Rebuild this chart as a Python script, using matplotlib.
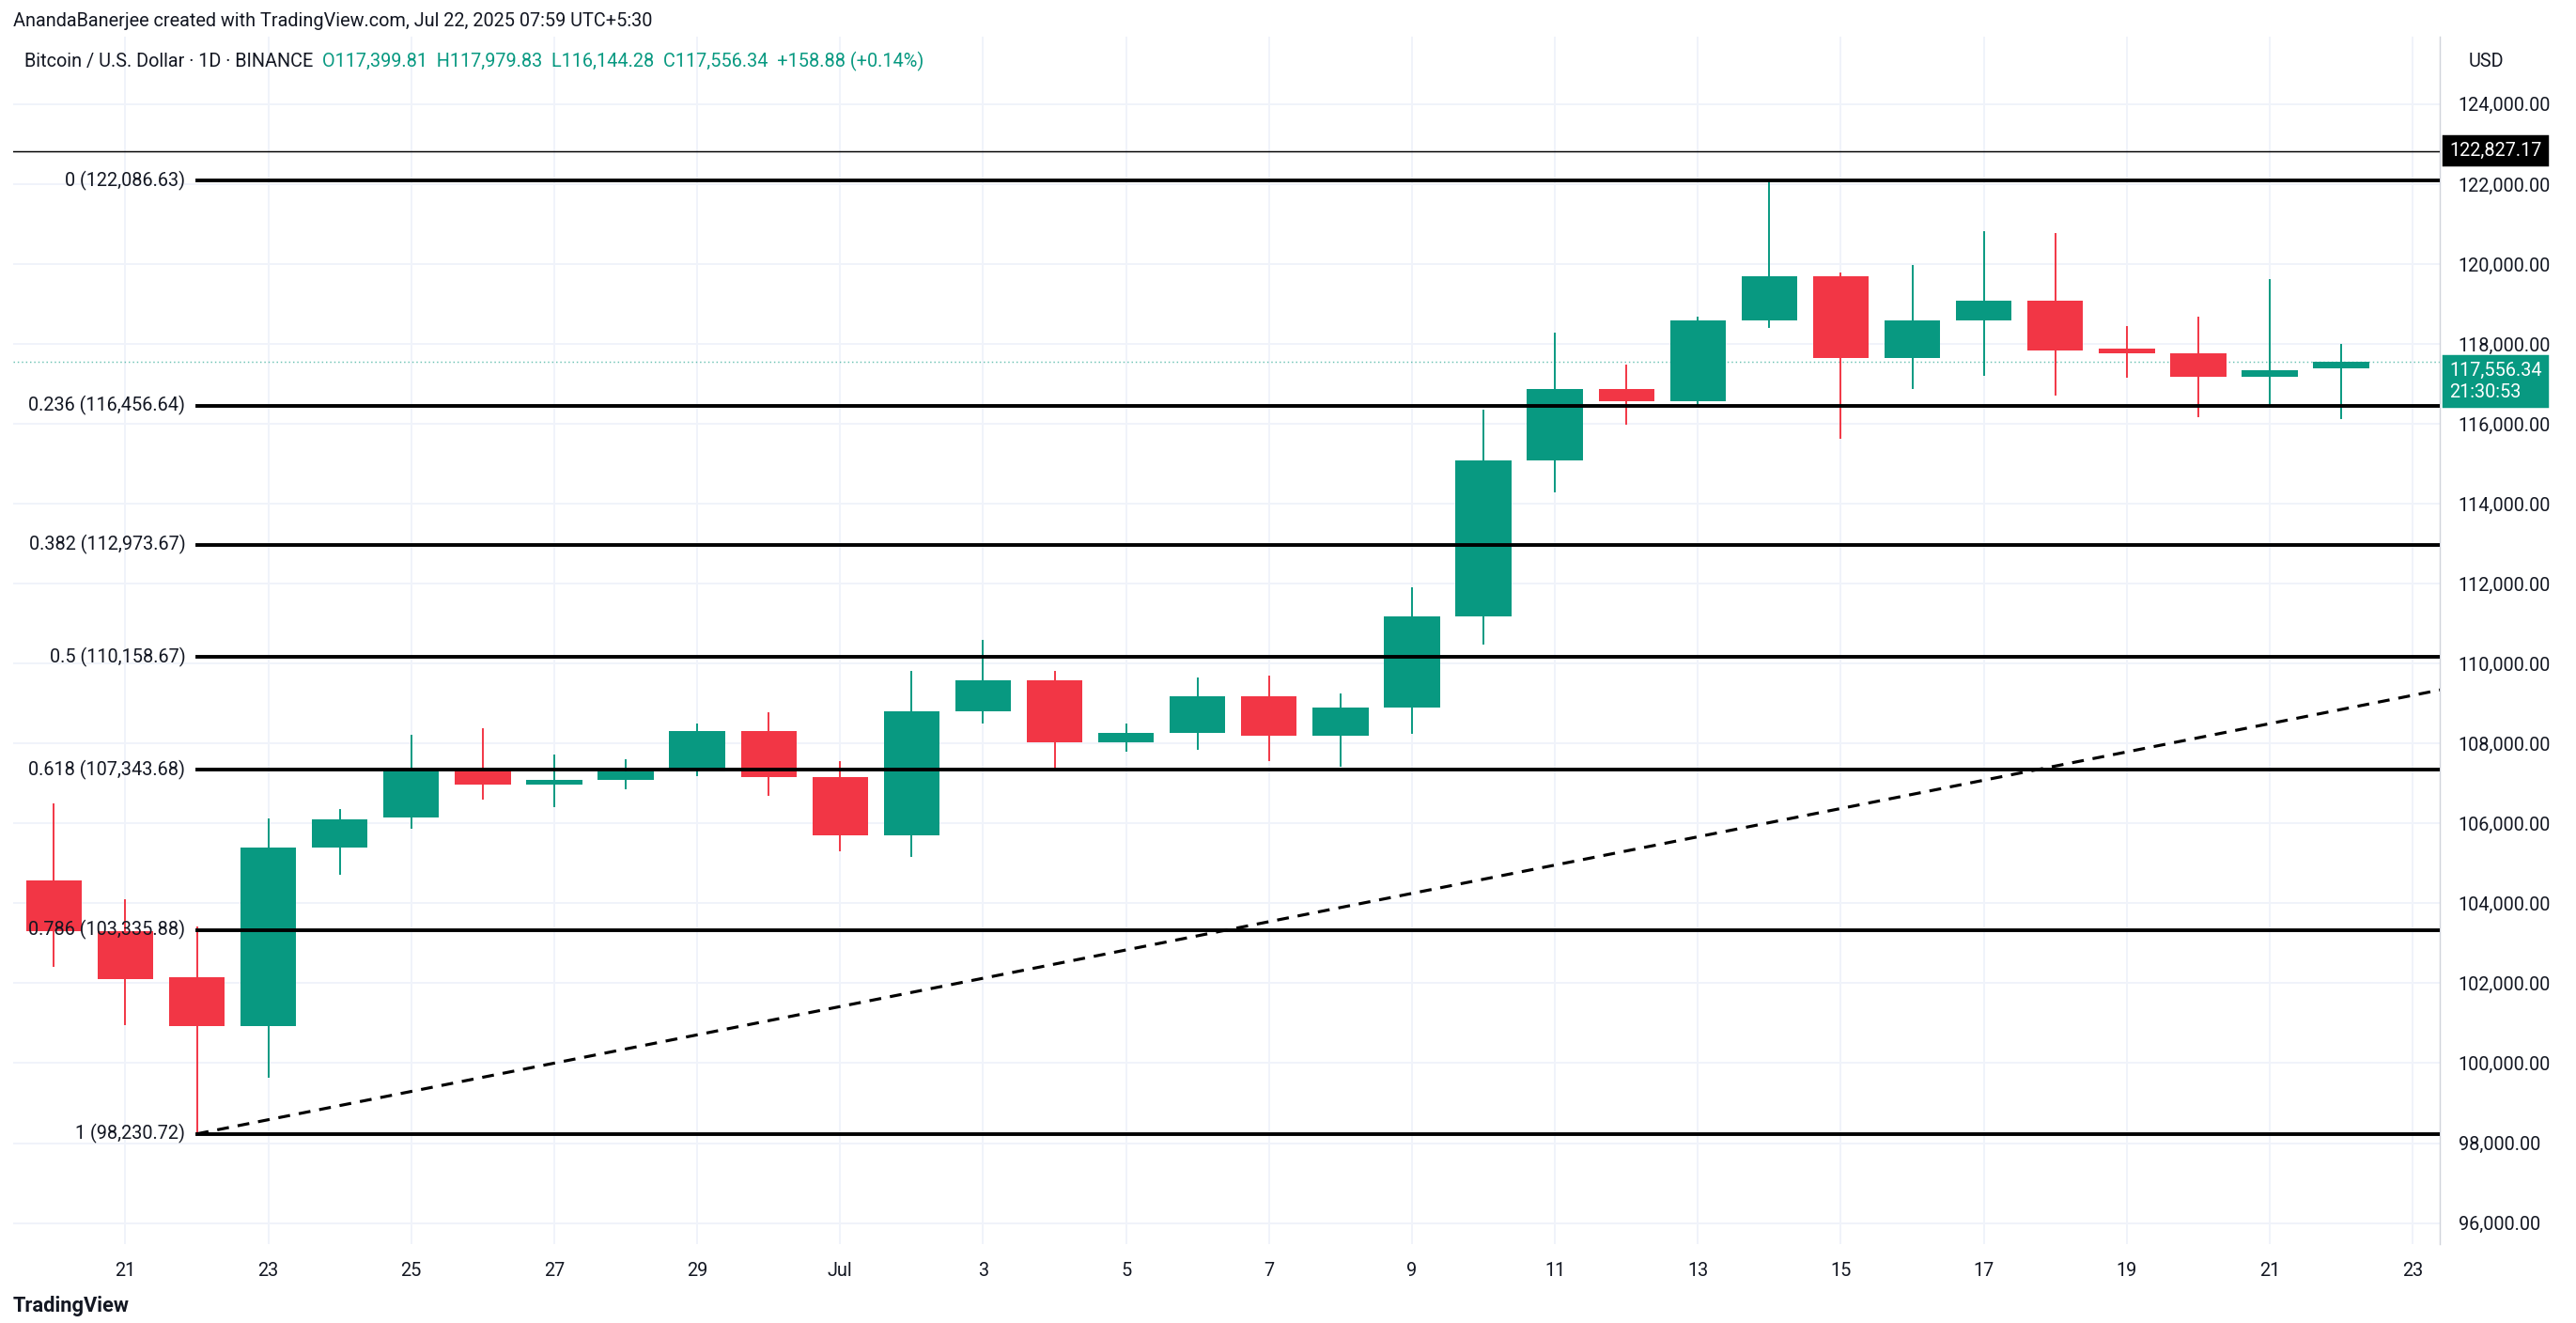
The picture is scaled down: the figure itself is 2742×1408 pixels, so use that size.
import numpy as np
import matplotlib.pyplot as plt
from matplotlib.patches import Rectangle

plt.rcParams["font.family"] = "Roboto"

# daily candles, Jun 20 .. Jul 22 2025
opens = [104580, 103306, 102150, 100925, 105400, 106140, 107370, 106960, 107080, 107290, 108320,
         107170, 105690, 108810, 109590, 108030, 108270, 109180, 108190, 108890, 111190, 115090,
         116860, 116570, 118580, 119690, 117640, 118580, 119070, 117880, 117760, 117180, 117399.81]
highs = [106468, 104086, 103400, 106100, 106340, 108190, 108360, 107700, 107580, 108480, 108770,
         107530, 109790, 110570, 109790, 108480, 109630, 109670, 109220, 111890, 116320, 118250,
         117470, 118660, 122086.63, 119770, 119940, 120800, 120760, 118420, 118660, 119610, 117979.83]
lows = [102444, 100966, 98230.72, 99650, 104740, 105890, 106630, 106430, 106880, 107210, 106710,
        105320, 105190, 108520, 107370, 107820, 107860, 107580, 107450, 108270, 110490, 114310,
        115990, 116490, 118420, 115660, 116900, 117220, 116730, 117180, 116200, 116490, 116144.28]
closes = [103306, 102115, 100925, 105400, 106100, 107370, 106960, 107080, 107290, 108320, 107170,
          105690, 108810, 109590, 108030, 108270, 109180, 108190, 108890, 111190, 115090, 116860,
          116570, 118580, 119690, 117640, 118580, 119070, 117840, 117760, 117180, 117350, 117556.34]

fib_ratios = ["0", "0.236", "0.382", "0.5", "0.618", "0.786", "1"]
fib_prices = [122086.63, 116456.64, 112973.67, 110158.67, 107343.68, 103335.88, 98230.72]
trend_end_price = 109340
x_tick_pos = [1, 3, 5, 7, 9, 11, 13, 15, 17, 19, 21, 23, 25, 27, 29, 31, 33]
x_tick_labels = ["21", "23", "25", "27", "29", "Jul", "3", "5", "7", "9", "11", "13", "15", "17", "19", "21", "23"]
y_ticks = np.arange(96000, 124001, 2000)

GREEN = "#089981"
RED = "#f23645"
FS = 8.2

fig = plt.figure(figsize=(15.67, 8.046), dpi=175)
W, H = 1568, 800
ax = fig.add_axes([8 / W, 1 - 752 / H, (1485 - 8) / W, (752 - 22) / H])
x0, x1 = -0.57, 33.38
ax.set_xlim(x0, x1)
ax.set_ylim(95484, 125697)

for i in range(len(opens)):
    o, h, l, c = opens[i], highs[i], lows[i], closes[i]
    col = GREEN if c >= o else RED
    ax.plot([i, i], [l, h], color=col, lw=0.8, zorder=3)
    ax.add_patch(Rectangle((i - 0.39, min(o, c)), 0.78, max(abs(c - o), 60),
                           facecolor=col, edgecolor=col, lw=0, zorder=4))

for r, p in zip(fib_ratios, fib_prices):
    ax.plot([2, x1], [p, p], color="black", lw=1.6, zorder=5)
    ax.text(1.84, p, "%s (%s)" % (r, f"{p:,.2f}"), ha="right", va="center",
            fontsize=FS, color="#131722", zorder=6)

ax.axhline(122827.17, color="black", lw=0.6, zorder=5)
ax.plot([2, x1], [fib_prices[-1], trend_end_price], color="black", lw=1.3, ls=(0, (4, 3)), zorder=5)
ax.axhline(closes[-1], color=GREEN, lw=0.6, ls=(0, (1, 2)), alpha=0.6, zorder=2)

ax.set_xticks(x_tick_pos)
ax.set_xticklabels(x_tick_labels)
ax.set_yticks(y_ticks)
ax.set_yticklabels([f"{v:,.2f}" for v in y_ticks])
ax.yaxis.tick_right()
ax.tick_params(axis="both", length=0, labelsize=FS, colors="#131722")
ax.tick_params(axis="y", pad=8)
ax.tick_params(axis="x", pad=8)
ax.grid(True, color="#f0f3fa", lw=0.8, zorder=0)
for s in ["top", "left", "bottom"]:
    ax.spines[s].set_visible(False)
ax.spines["right"].set_color("#d1d4dc")
ax.spines["right"].set_linewidth(0.6)

# price labels on the right axis
ax.text(1.004, 122827.17, "122,827.17", transform=ax.get_yaxis_transform(), ha="left", va="center",
        fontsize=FS, color="white", bbox=dict(boxstyle="square,pad=0.3", fc="black", ec="black"))
ax.text(1.004, closes[-1], "117,556.34\n21:30:53", transform=ax.get_yaxis_transform(), ha="left",
        va="top", fontsize=FS, color="white", linespacing=1.3,
        bbox=dict(boxstyle="square,pad=0.3", fc=GREEN, ec=GREEN))
ax.text(1.012, 1 - 15 / 730, "USD", transform=ax.transAxes, ha="left", va="center", fontsize=FS,
        color="#131722")

fig.text(8 / W, 1 - 13 / H, "AnandaBanerjee created with TradingView.com, Jul 22, 2025 07:59 UTC+5:30",
         fontsize=FS, color="#131722", va="center")
hdr_y = 1 - 37 / H
fig.text(15 / W, hdr_y, "Bitcoin / U.S. Dollar · 1D · BINANCE", fontsize=FS, color="#131722", va="center")
fig.text(196 / W, hdr_y, "O117,399.81  H117,979.83  L116,144.28  C117,556.34  +158.88 (+0.14%)",
         fontsize=FS, color=GREEN, va="center")
fig.text(8 / W, 1 - 790 / H, "TradingView", fontsize=9, fontweight="bold", color="#131722", va="center")

fig.savefig("out.png", dpi=175, facecolor="white")
